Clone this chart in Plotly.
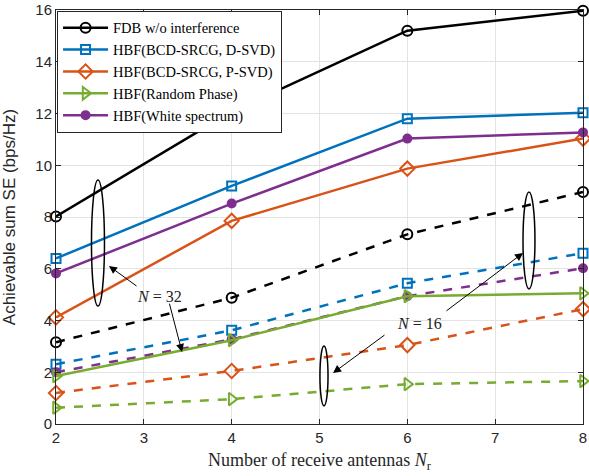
import plotly.graph_objects as go

# ---------------- data ----------------
nr = [2, 4, 6, 8]

names = ["FDB w/o interference", "HBF(BCD-SRCG, D-SVD)", "HBF(BCD-SRCG, P-SVD)",
         "HBF(Random Phase)", "HBF(White spectrum)"]

# N = 32 (solid)
fdb_32 = [8.02, 12.07, 15.2, 15.97]
dsvd_32 = [6.4, 9.2, 11.8, 12.03]
psvd_32 = [4.12, 7.85, 9.87, 11.03]
rand_32 = [1.85, 3.24, 4.94, 5.05]
white_32 = [5.82, 8.52, 11.03, 11.27]

# N = 16 (dashed)
fdb_16 = [3.16, 4.88, 7.33, 8.97]
dsvd_16 = [2.31, 3.62, 5.44, 6.6]
psvd_16 = [1.2, 2.05, 3.05, 4.44]
rand_16 = [0.63, 0.96, 1.54, 1.66]
white_16 = [2.0, 3.27, 4.94, 6.02]

x_ticks = [2, 3, 4, 5, 6, 7, 8]
y_ticks = [0, 2, 4, 6, 8, 10, 12, 14, 16]

# ---------------- styles ----------------
colors = ["#000000", "#0072BD", "#D95319", "#77AC30", "#7E2F8E"]
symbols = ["circle-open", "square-open", "diamond-open", "triangle-right-open", "circle"]
sizes = [10, 9, 11, 11, 8]
SERIF = "Liberation Serif, DejaVu Serif, serif"
SANS = "Liberation Sans, Arial, sans-serif"

series_32 = [fdb_32, dsvd_32, psvd_32, rand_32, white_32]
series_16 = [fdb_16, dsvd_16, psvd_16, rand_16, white_16]

fig = go.Figure()

for i in range(5):
    fig.add_trace(go.Scatter(
        x=nr, y=series_16[i], mode="lines+markers", showlegend=False, cliponaxis=False,
        line=dict(color=colors[i], width=2.5, dash="dash"),
        marker=dict(symbol=symbols[i], size=sizes[i], color=colors[i],
                    line=dict(width=2, color=colors[i])),
    ))
for i in range(5):
    fig.add_trace(go.Scatter(
        x=nr, y=series_32[i], mode="lines+markers", name=names[i], cliponaxis=False,
        line=dict(color=colors[i], width=2.5),
        marker=dict(symbol=symbols[i], size=sizes[i], color=colors[i],
                    line=dict(width=2, color=colors[i])),
    ))

# ellipses grouping curves
ellipses = [
    (2.404, 4.56, 2.552, 9.43),
    (7.317, 5.22, 7.453, 8.97),
    (5.005, 0.70, 5.097, 3.01),
]
for (x0, y0, x1, y1) in ellipses:
    fig.add_shape(type="circle", xref="x", yref="y", x0=x0, y0=y0, x1=x1, y1=y1,
                  line=dict(color="black", width=1.5), fillcolor="rgba(0,0,0,0)")

# arrows (head x, head y, tail x, tail y)
arrows = [
    (2.603, 6.11, 2.934, 5.29),
    (3.435, 2.78, 3.287, 4.71),
    (7.317, 6.61, 6.429, 4.33),
    (5.154, 1.97, 5.757, 3.48),
]
for (hx, hy, tx, ty) in arrows:
    fig.add_annotation(x=hx, y=hy, ax=tx, ay=ty, xref="x", yref="y",
                       axref="x", ayref="y", text="", showarrow=True,
                       arrowhead=2, arrowsize=1.6, arrowwidth=1, arrowcolor="black")

labels = [(3.184, 4.91, "<i>N</i> = 32"), (6.144, 3.90, "<i>N</i> = 16")]
for (lx, ly, t) in labels:
    fig.add_annotation(x=lx, y=ly, xref="x", yref="y", text=t, showarrow=False,
                       font=dict(family=SERIF, size=16, color="#222"))

axis_common = dict(showline=True, linecolor="#262626", linewidth=1, mirror="ticks",
                   ticks="inside", ticklen=5, tickcolor="#262626",
                   showgrid=True, gridcolor="#e3e3e3", gridwidth=1, zeroline=False,
                   automargin=False,
                   tickfont=dict(family=SANS, size=15, color="#262626"))

fig.update_xaxes(range=[2, 8], tickvals=x_ticks,
                 title=dict(text="Number of receive antennas <i>N</i><sub>r</sub>",
                            font=dict(family=SERIF, size=18, color="#262626"),
                            standoff=8),
                 **axis_common)
fig.update_yaxes(range=[0, 16], tickvals=y_ticks,
                 title=dict(text="Achievable sum SE (bps/Hz)",
                            font=dict(family=SANS, size=17, color="#262626")),
                 **axis_common)

fig.update_layout(
    width=589, height=476,
    margin=dict(l=56, r=6, t=10, b=52),
    plot_bgcolor="white", paper_bgcolor="white",
    legend=dict(x=0.002, y=0.998, xanchor="left", yanchor="top",
                bgcolor="white", bordercolor="#262626", borderwidth=1,
                font=dict(family=SERIF, size=14.5, color="black"),
                itemwidth=45, tracegroupgap=0),
)

fig.write_html("out.html", config={"displayModeBar": False},
               post_script="document.body.style.margin='0';")
